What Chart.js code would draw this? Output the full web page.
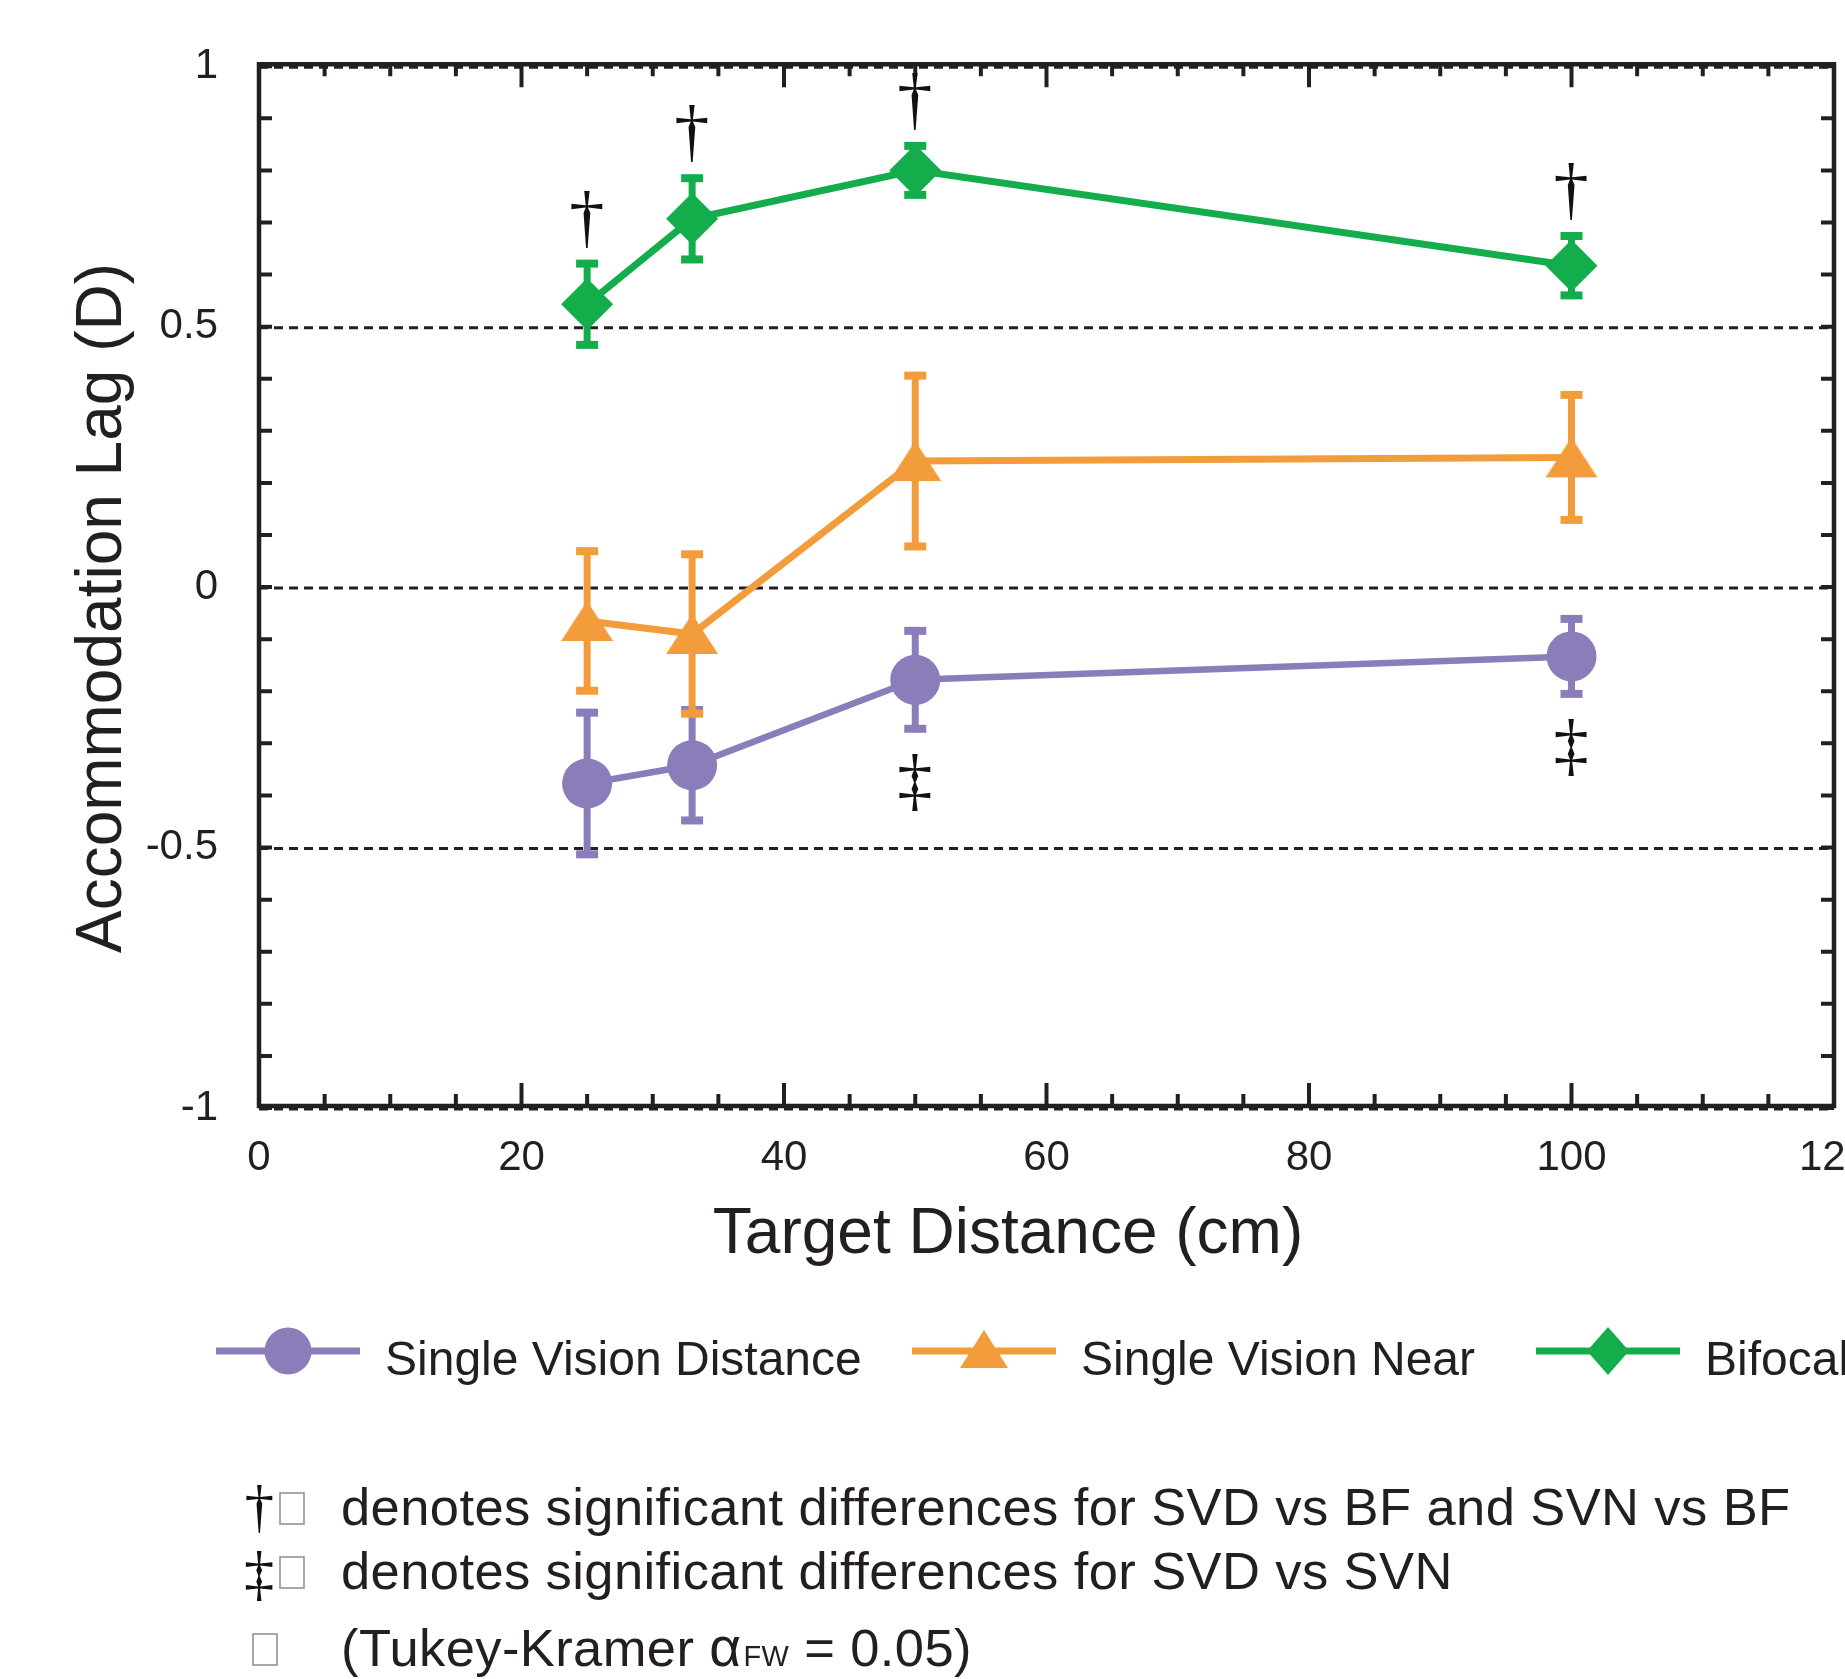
<!DOCTYPE html>
<html>
<head>
<meta charset="utf-8">
<script src="https://cdn.jsdelivr.net/npm/chart.js@4.4.0/dist/chart.umd.min.js"></script>
<style>
html, body { margin: 0; padding: 0; background: #ffffff; overflow: hidden; width: 1845px; height: 1679px; }
#wrap { position: absolute; left: 0; top: 0; width: 1900px; height: 1679px; }
</style>
</head>
<body>
<div id="wrap"><canvas id="c" width="1900" height="1679"></canvas></div>
<script>
// ---------------- data ----------------
const distances = [25, 33, 50, 100];                 // Target distance (cm)
const svdMean = [-0.377, -0.342, -0.178, -0.133];    // Single Vision Distance
const svdErr  = [0.136, 0.106, 0.094, 0.072];
const svnMean = [-0.065, -0.090, 0.242, 0.249];      // Single Vision Near
const svnErr  = [0.134, 0.153, 0.164, 0.120];
const bfMean  = [0.543, 0.707, 0.800, 0.617];        // Bifocal
const bfErr   = [0.078, 0.078, 0.047, 0.057];
const seriesNames = ['Single Vision Distance', 'Single Vision Near', 'Bifocal'];
const daggerAt  = [25, 33, 50, 100];   // † marks (above Bifocal)
const ddaggerAt = [50, 100];           // ‡ marks (below Single Vision Distance)
const xTickLabels = [0, 20, 40, 60, 80, 100, 120];
const yTickLabels = [-1, -0.5, 0, 0.5, 1];
const xTitle = 'Target Distance (cm)';
const yTitle = 'Accommodation Lag (D)';
const note1 = 'denotes significant differences for SVD vs BF and SVN vs BF';
const note2 = 'denotes significant differences for SVD vs SVN';
const note3 = ['(Tukey-Kramer ', 'α', 'FW', ' = 0.05)'];

// ---------------- style ----------------
const INK = '#231F20';
const COLORS = ['#8A7DBA', '#F39C3B', '#13AE4B'];
const FONT = "'Liberation Sans', Arial, Helvetica, sans-serif";
const SERIF = "'Liberation Serif', 'DejaVu Serif', 'Times New Roman', serif";

function makeTriangle(w, h, color) {
  const c = document.createElement('canvas');
  c.width = w; c.height = h;
  const g = c.getContext('2d');
  g.fillStyle = color;
  g.beginPath();
  g.moveTo(w / 2, 1); g.lineTo(w - 1, h - 1); g.lineTo(1, h - 1);
  g.closePath(); g.fill();
  return c;
}
const triImg = makeTriangle(54, 42, COLORS[1]);
const triLegend = makeTriangle(50, 40, COLORS[1]);

function pts(m) { return distances.map((d, i) => ({ x: d, y: m[i] })); }

const errs = [svdErr, svnErr, bfErr];

function glyphSize(ctx, ch, family, targetH) {
  ctx.font = '100px ' + family;
  const m = ctx.measureText(ch);
  return 100 * targetH / (m.actualBoundingBoxAscent + m.actualBoundingBoxDescent);
}
function drawGlyph(ctx, ch, family, targetH, cx, top) {
  const s = glyphSize(ctx, ch, family, targetH);
  ctx.font = s + 'px ' + family;
  const m = ctx.measureText(ch);
  const w = m.actualBoundingBoxLeft + m.actualBoundingBoxRight;
  ctx.textAlign = 'left';
  ctx.textBaseline = 'alphabetic';
  ctx.fillText(ch, cx - w / 2 + m.actualBoundingBoxLeft, top + m.actualBoundingBoxAscent);
}

const decor = {
  id: 'decor',
  beforeDatasetsDraw(chart) {
    const { ctx, chartArea: a, scales: { y } } = chart;
    ctx.save();
    ctx.strokeStyle = INK;
    ctx.lineWidth = 3;
    ctx.setLineDash([9, 6]);
    yTickLabels.forEach(v => {
      const py = y.getPixelForValue(v) + 1;
      ctx.beginPath(); ctx.moveTo(a.left, py); ctx.lineTo(a.right, py); ctx.stroke();
    });
    ctx.restore();
  },
  beforeDatasetDraw(chart, args) {
    const { ctx, scales: { y } } = chart;
    const ds = chart.data.datasets[args.index];
    const e = errs[args.index];
    ctx.save();
    ctx.strokeStyle = ds.borderColor;
    ctx.fillStyle = ds.borderColor;
    ctx.lineWidth = 7;
    args.meta.data.forEach((p, i) => {
      const v = ds.data[i].y;
      const t = y.getPixelForValue(v + e[i]);
      const b = y.getPixelForValue(v - e[i]);
      ctx.beginPath(); ctx.moveTo(p.x, t); ctx.lineTo(p.x, b); ctx.stroke();
      ctx.fillRect(p.x - 11, t - 4, 22, 8);
      ctx.fillRect(p.x - 11, b - 4, 22, 8);
    });
    ctx.restore();
  },
  afterDatasetsDraw(chart) {
    const { ctx, chartArea: a, scales: { x, y } } = chart;
    ctx.save();
    ctx.strokeStyle = INK;
    ctx.fillStyle = INK;
    // frame
    ctx.lineWidth = 4.5;
    const top = a.top - 2, bot = a.bottom - 2;
    ctx.beginPath();
    ctx.moveTo(a.left, top); ctx.lineTo(a.right, top);
    ctx.lineTo(a.right, bot); ctx.lineTo(a.left, bot); ctx.closePath();
    ctx.stroke();
    // inward ticks
    ctx.lineWidth = 4;
    for (let v = -1; v <= 1.0001; v += 0.1) {
      const py = y.getPixelForValue(v);
      ctx.beginPath();
      ctx.moveTo(a.left, py); ctx.lineTo(a.left + 13, py);
      ctx.moveTo(a.right, py); ctx.lineTo(a.right - 13, py);
      ctx.stroke();
    }
    for (let v = 0; v <= 120; v += 5) {
      const px = x.getPixelForValue(v);
      const len = (v % 20 === 0) ? 23 : 12;
      ctx.beginPath();
      ctx.moveTo(px, top); ctx.lineTo(px, top + len);
      ctx.moveTo(px, bot); ctx.lineTo(px, bot - len);
      ctx.stroke();
    }
    // significance marks
    ctx.fillStyle = '#111';
    daggerAt.forEach(d => {
      const i = distances.indexOf(d);
      const px = x.getPixelForValue(d);
      const capTop = y.getPixelForValue(bfMean[i] + bfErr[i]);
      drawGlyph(ctx, '\u2020', SERIF, 57, px, capTop - 16 - 57);
    });
    ddaggerAt.forEach(d => {
      const i = distances.indexOf(d);
      const px = x.getPixelForValue(d);
      const capBot = y.getPixelForValue(svdMean[i] - svdErr[i]);
      drawGlyph(ctx, '\u2021', SERIF, 57, px, capBot + 25);
    });
    ctx.restore();
  },
  afterDraw(chart) {
    const { ctx } = chart;
    ctx.save();
    ctx.fillStyle = INK;
    // axis titles
    ctx.font = '64px ' + FONT;
    ctx.textAlign = 'center';
    ctx.textBaseline = 'alphabetic';
    ctx.fillText(xTitle, 1008, 1253);
    ctx.save();
    ctx.translate(121, 608);
    ctx.rotate(-Math.PI / 2);
    ctx.fillText(yTitle, 0, 0);
    ctx.restore();

    // legend
    const starts = [216, 912, 1536];
    const lineY = 1351;
    ctx.font = '48px ' + FONT;
    ctx.textAlign = 'left';
    chart.data.datasets.forEach((ds, k) => {
      const x0 = starts[k];
      ctx.strokeStyle = ds.borderColor;
      ctx.fillStyle = ds.borderColor;
      ctx.lineWidth = 7;
      ctx.beginPath(); ctx.moveTo(x0, lineY); ctx.lineTo(x0 + 144, lineY); ctx.stroke();
      const cx = x0 + 72;
      if (k === 0) {
        ctx.beginPath(); ctx.arc(cx, lineY, 23.5, 0, Math.PI * 2); ctx.fill();
      } else if (k === 1) {
        ctx.drawImage(triLegend, cx - 25, lineY - 22);
      } else {
        ctx.beginPath();
        ctx.moveTo(cx, lineY - 24); ctx.lineTo(cx + 21, lineY); ctx.lineTo(cx, lineY + 24); ctx.lineTo(cx - 21, lineY);
        ctx.closePath(); ctx.fill();
      }
      ctx.fillStyle = INK;
      ctx.fillText(ds.label, x0 + 169, 1375);
    });

    // footnotes
    const nf = 52.5;
    ctx.fillStyle = INK;
    ctx.font = nf + 'px ' + FONT;
    ctx.textAlign = 'left';
    ctx.letterSpacing = '0.4px';
    ctx.fillText(note1, 341, 1525);
    ctx.fillText(note2, 341, 1589);
    let xx = 341;
    ctx.font = nf + 'px ' + FONT;
    ctx.fillText(note3[0], xx, 1666); xx += ctx.measureText(note3[0]).width;
    ctx.font = (nf * 1.05) + 'px ' + FONT;
    ctx.fillText(note3[1], xx, 1666); xx += ctx.measureText(note3[1]).width + 2;
    ctx.font = (nf * 0.55) + 'px ' + FONT;
    ctx.fillText(note3[2], xx, 1666); xx += ctx.measureText(note3[2]).width;
    ctx.font = nf + 'px ' + FONT;
    ctx.fillText(note3[3], xx, 1666);
    ctx.letterSpacing = '0px';
    // marks and empty boxes in the note block
    ctx.fillStyle = '#111';
    drawGlyph(ctx, '\u2020', SERIF, 48, 259, 1485);
    drawGlyph(ctx, '\u2021', SERIF, 49, 259, 1551);
    ctx.strokeStyle = '#8a8a8a';
    ctx.lineWidth = 1.5;
    ctx.strokeRect(280, 1493, 24, 31);
    ctx.strokeRect(280, 1557, 24, 31);
    ctx.strokeRect(253, 1634, 24, 31);
    ctx.restore();
  }
};

new Chart(document.getElementById('c'), {
  type: 'line',
  data: {
    datasets: [
      { label: seriesNames[0], data: pts(svdMean), borderColor: COLORS[0], backgroundColor: COLORS[0],
        borderWidth: 6.5, pointStyle: 'circle', pointRadius: 25, pointBorderWidth: 0,
        pointBackgroundColor: COLORS[0], tension: 0, fill: false, order: 3 },
      { label: seriesNames[1], data: pts(svnMean), borderColor: COLORS[1], backgroundColor: COLORS[1],
        borderWidth: 7, pointStyle: triImg, pointRadius: 27, pointBorderWidth: 0,
        pointBackgroundColor: COLORS[1], tension: 0, fill: false, order: 2 },
      { label: seriesNames[2], data: pts(bfMean), borderColor: COLORS[2], backgroundColor: COLORS[2],
        borderWidth: 7, pointStyle: 'rectRot', pointRadius: 26, pointBorderWidth: 0,
        pointBackgroundColor: COLORS[2], tension: 0, fill: false, order: 1 }
    ]
  },
  options: {
    responsive: false,
    devicePixelRatio: 1,
    animation: false,
    events: [],
    layout: { padding: { left: 0, right: 66, top: 61, bottom: 0 } },
    plugins: { legend: { display: false }, tooltip: { enabled: false }, title: { display: false } },
    scales: {
      x: {
        type: 'linear', min: 0, max: 120,
        grid: { display: false, drawTicks: false },
        border: { display: false },
        afterBuildTicks: s => { s.ticks = xTickLabels.map(v => ({ value: v })); },
        afterFit: s => { s.height = 571; },
        ticks: { padding: 25, color: INK, font: { family: FONT, size: 42 }, maxRotation: 0, autoSkip: false,
                 callback: v => String(v) }
      },
      y: {
        type: 'linear', min: -1, max: 1,
        grid: { display: false, drawTicks: false },
        border: { display: false },
        afterBuildTicks: s => { s.ticks = yTickLabels.map(v => ({ value: v })); },
        afterFit: s => { s.width = 259; },
        ticks: { padding: 41, color: INK, font: { family: FONT, size: 42 }, autoSkip: false,
                 callback: v => String(v) }
      }
    }
  },
  plugins: [decor]
});
</script>
</body>
</html>
